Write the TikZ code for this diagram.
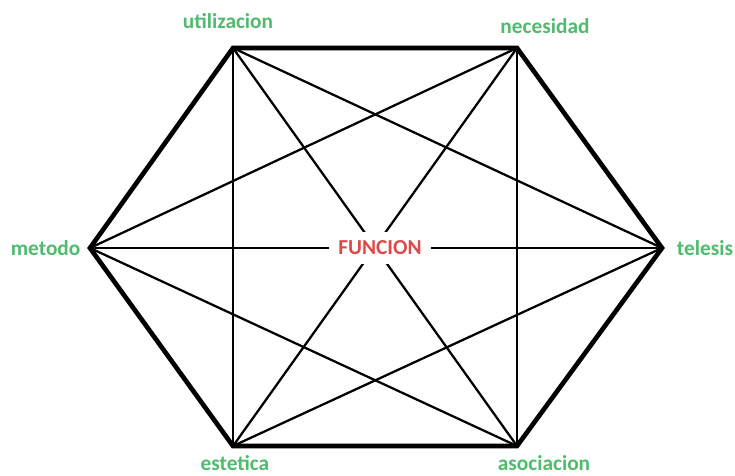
\documentclass[tikz,border=0pt]{standalone}
\usepackage{fontspec}
\setmainfont{Carlito}
\usepackage{xcolor}
\usetikzlibrary{positioning}
\definecolor{labgreen}{RGB}{80,186,110}
\definecolor{labred}{RGB}{222,72,72}
\tikzset{
  vlabel/.style={font=\bfseries\fontsize{16}{18}\selectfont, text=labgreen, inner sep=1pt},
  center/.style={font=\bfseries\fontsize{16}{18}\selectfont, text=labred, fill=white,
                 inner xsep=7pt, inner ysep=7pt},
  thinline/.style={line width=1.7pt, draw=black},
  thickline/.style={line width=3.5pt, draw=black, line join=miter},
}

\begin{document}
\begin{tikzpicture}[x=0.75pt, y=-0.75pt]
  \useasboundingbox (0,0) rectangle (735,475);

  %% vertices
  \coordinate (util) at (233,48);
  \coordinate (nece) at (517,48);
  \coordinate (tele) at (662,248);
  \coordinate (asoc) at (517,446);
  \coordinate (este) at (233,446);
  \coordinate (meto) at (90,248);

  %% inner lines
  \draw[thinline] (util) -- (este);
  \draw[thinline] (util) -- (asoc);
  \draw[thinline] (util) -- (tele);
  \draw[thinline] (nece) -- (asoc);
  \draw[thinline] (nece) -- (este);
  \draw[thinline] (nece) -- (meto);
  \draw[thinline] (meto) -- (tele);
  \draw[thinline] (meto) -- (asoc);
  \draw[thinline] (tele) -- (este);

  \node[center] (func) at (380,248) {FUNCION};

  %% hexagon
  \draw[thickline] (util) -- (nece) -- (tele) -- (asoc) -- (este) -- (meto) -- cycle;

  %% labels
  \node[vlabel] (lutil) at (228,21) {utilizacion};
  \node[vlabel] (lnece) at (545,26) {necesidad};
  \node[vlabel, left=6pt of meto] (lmeto) {metodo};
  \node[vlabel, right=10pt of tele] (ltele) {telesis};
  \node[vlabel] (leste) at (235,463) {estetica};
  \node[vlabel] (lasoc) at (544,463) {asociacion};

\end{tikzpicture}
\end{document}
